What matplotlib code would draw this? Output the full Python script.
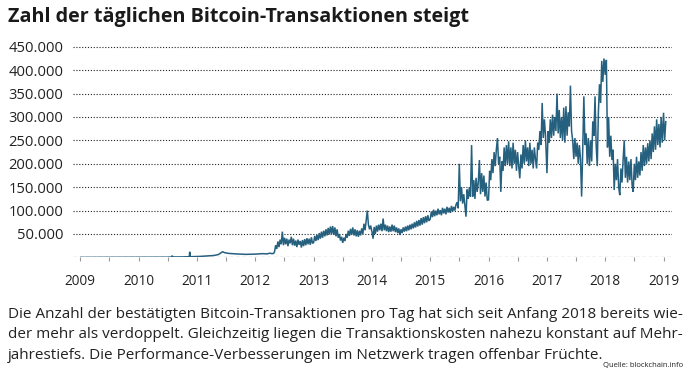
import matplotlib
matplotlib.use("Agg")
import matplotlib.pyplot as plt
import matplotlib.dates as mdates
import matplotlib.ticker as mticker
import pandas as pd

# ---- data ----
early_dates = ["2009-01-03", "2009-06-01", "2009-12-31", "2010-04-01", "2010-07-01",
               "2010-07-25", "2010-07-30", "2010-08-05", "2010-10-01", "2010-11-14",
               "2010-11-17", "2010-11-20", "2011-01-15", "2011-03-01", "2011-04-15",
               "2011-05-15", "2011-06-10", "2011-06-25", "2011-07-20", "2011-09-01",
               "2011-11-01", "2012-01-01", "2012-02-15", "2012-03-15", "2012-04-01",
               "2012-04-15", "2012-04-25"]
early_tx = [1, 100, 200, 300, 400,
            800, 3500, 900, 1000, 1500,
            12000, 1500, 2000, 3000, 4000,
            6000, 12000, 10000, 8500, 7500,
            6500, 7000, 8000, 7500, 9000,
            8000, 8500]

# weekly values starting 1 May 2012
tx_2012 = [12000, 26000, 18000, 34000, 22000, 38000, 28000, 55000, 26000, 42000,
           28000, 40000, 24000, 38000, 30000, 44000, 26000, 40000, 25000, 36000,
           22000, 38000, 27000, 35000, 21000, 37000, 24000, 39000, 26000, 41000,
           28000, 40000, 27000, 43000, 30000]
# weekly values starting 1 Jan of each year
tx_2013 = [32000, 46000, 35000, 48000, 37000, 52000, 40000, 55000, 42000, 57000,
           45000, 60000, 47000, 63000, 49000, 66000, 50000, 67000, 48000, 64000,
           45000, 60000, 42000, 50000, 36000, 44000, 31000, 42000, 35000, 50000,
           42000, 57000, 46000, 61000, 48000, 64000, 47000, 60000, 45000, 58000,
           44000, 57000, 47000, 62000, 50000, 72000, 58000, 80000, 100000, 70000,
           60000, 68000]
tx_2014 = [55000, 40000, 65000, 50000, 68000, 55000, 70000, 58000, 72000, 56000,
           83000, 58000, 70000, 56000, 68000, 54000, 66000, 55000, 70000, 56000,
           68000, 54000, 64000, 52000, 62000, 48000, 60000, 52000, 64000, 55000,
           66000, 56000, 68000, 58000, 70000, 60000, 72000, 62000, 75000, 64000,
           78000, 66000, 80000, 68000, 84000, 70000, 86000, 73000, 88000, 75000,
           90000, 78000]
tx_2015 = [82000, 98000, 86000, 102000, 88000, 100000, 90000, 104000, 92000, 101000,
           90000, 106000, 94000, 104000, 92000, 108000, 96000, 106000, 95000, 110000,
           98000, 108000, 100000, 112000, 118000, 105000, 200000, 120000, 150000, 115000,
           135000, 110000, 87000, 145000, 125000, 150000, 130000, 240000, 130000, 165000,
           125000, 170000, 140000, 160000, 208000, 135000, 180000, 140000, 175000, 130000,
           160000, 122000]
tx_2016 = [123000, 185000, 165000, 210000, 180000, 225000, 195000, 230000, 255000, 200000,
           215000, 140000, 205000, 185000, 235000, 195000, 240000, 200000, 248000, 195000,
           235000, 190000, 245000, 200000, 230000, 185000, 225000, 195000, 169000, 220000,
           190000, 240000, 200000, 250000, 205000, 235000, 195000, 245000, 200000, 230000,
           190000, 235000, 210000, 190000, 245000, 230000, 270000, 240000, 330000, 255000,
           295000, 260000]
tx_2017 = [180000, 270000, 245000, 295000, 255000, 305000, 260000, 300000, 270000, 350000,
           265000, 315000, 255000, 300000, 250000, 320000, 245000, 323000, 260000, 310000,
           280000, 367000, 270000, 250000, 210000, 255000, 215000, 245000, 200000, 240000,
           210000, 130000, 230000, 344000, 240000, 265000, 200000, 255000, 195000, 250000,
           205000, 290000, 260000, 344000, 240000, 195000, 310000, 370000, 330000, 420000,
           375000, 425000]
tx_2018 = [390000, 422000, 235000, 300000, 215000, 260000, 208000, 230000, 144000, 200000,
           165000, 210000, 150000, 133000, 190000, 160000, 210000, 250000, 170000, 215000,
           160000, 205000, 165000, 210000, 155000, 140000, 200000, 165000, 215000, 170000,
           205000, 175000, 225000, 185000, 240000, 195000, 235000, 200000, 244000, 205000,
           250000, 210000, 265000, 225000, 280000, 230000, 295000, 240000, 285000, 235000,
           300000, 245000]
tx_2019 = [309000, 250000, 290000]

year_ticks = list(range(2009, 2020))
y_ticks = [50000, 100000, 150000, 200000, 250000, 300000, 350000, 400000, 450000]

title = "Zahl der täglichen Bitcoin-Transaktionen steigt"
body = ("Die Anzahl der bestätigten Bitcoin-Transaktionen pro Tag hat sich seit Anfang 2018 bereits wie-\n"
        "der mehr als verdoppelt. Gleichzeitig liegen die Transaktionskosten nahezu konstant auf Mehr-\n"
        "jahrestiefs. Die Performance-Verbesserungen im Netzwerk tragen offenbar Früchte.")
source = "Quelle: blockchain.info"

# ---- assemble series ----
dates = list(pd.to_datetime(early_dates))
vals = list(early_tx)
dates += list(pd.date_range("2012-05-01", periods=len(tx_2012), freq="7D"))
vals += tx_2012
for yr, arr in [(2013, tx_2013), (2014, tx_2014), (2015, tx_2015), (2016, tx_2016),
                (2017, tx_2017), (2018, tx_2018), (2019, tx_2019)]:
    dates += list(pd.date_range(f"{yr}-01-01", periods=len(arr), freq="7D"))
    vals += arr

plt.rcParams['font.family'] = ['Open Sans', 'DejaVu Sans']

fig = plt.figure(figsize=(6.89, 3.77), dpi=100)
ax = fig.add_axes([73/689, 119.6/377, (672-73)/689, 215.3/377])

ax.plot(dates, vals, color="#26607f", lw=1.1, solid_joinstyle="miter")

ax.set_ylim(0, 460000)
ax.set_xlim(pd.Timestamp("2008-11-16"), pd.Timestamp("2019-02-23"))

for s in ax.spines.values():
    s.set_visible(False)

for yv in y_ticks:
    ax.axhline(yv, color="#222222", lw=0.8, ls=(0, (1, 1.6)), zorder=0)
ax.axhline(0, color="#999999", lw=0.9, ls=(0, (3, 2)), zorder=0)

ax.set_yticks(y_ticks)
ax.yaxis.set_major_formatter(mticker.FuncFormatter(lambda v, p: f"{int(v):,}".replace(",", ".")))
ax.tick_params(axis="y", length=0, pad=7, labelsize=10.6, labelcolor="#222222")

ax.set_xticks([pd.Timestamp(f"{y}-01-01") for y in year_ticks])
ax.set_xticks([pd.Timestamp(f"{y}-07-01") for y in year_ticks[:-1]], minor=True)
ax.xaxis.set_major_formatter(mdates.DateFormatter("%Y"))
ax.tick_params(axis="x", which="both", length=3, width=0.8, color="#999999", direction="out")
ax.tick_params(axis="x", which="major", pad=9, labelsize=9.8, labelcolor="#222222")

fig.text(8/689, 1 - 17/377, title, fontsize=14.2, fontweight="bold", color="#1a1a1a",
         ha="left", va="center")
fig.text(8/689, 1 - 307/377, body, fontsize=11, color="#222222", ha="left", va="top",
         linespacing=1.5)
fig.text(683/689, 1 - 366/377, source, fontsize=5.5, color="#222222", ha="right", va="center")

fig.savefig("out.png", dpi=100)
